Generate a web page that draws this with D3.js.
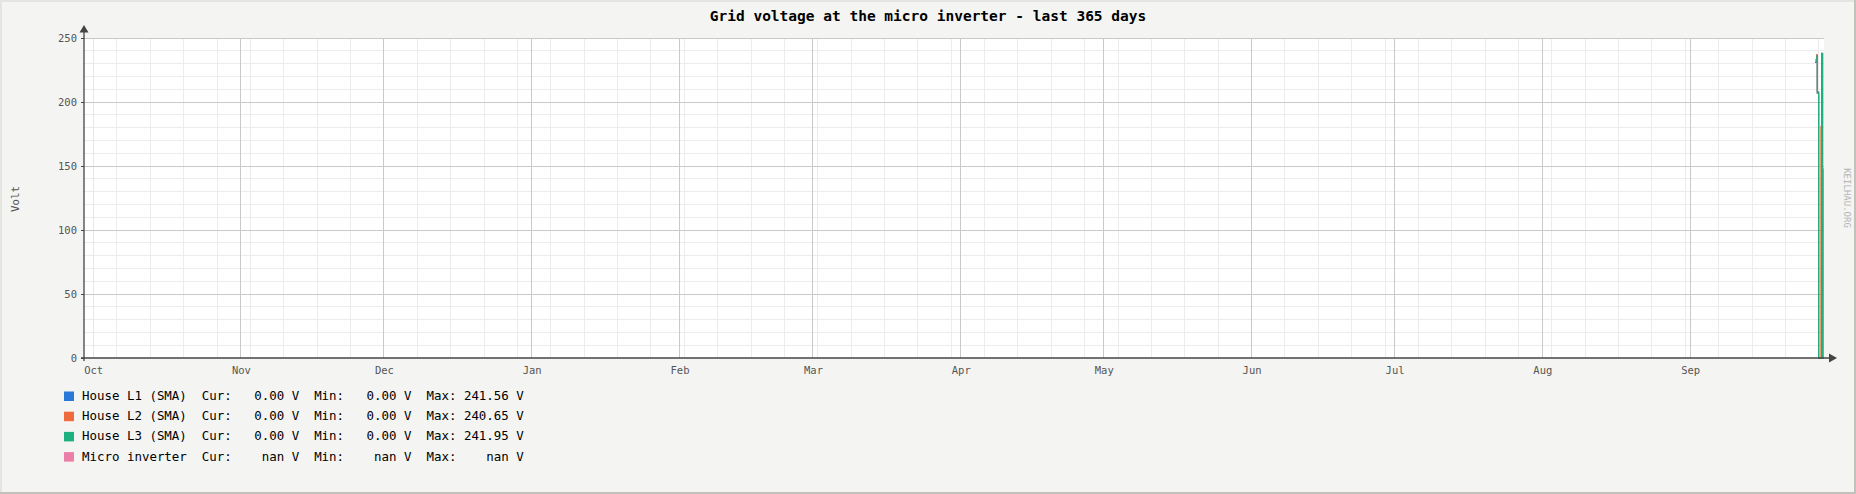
<!DOCTYPE html>
<html>
<head>
<meta charset="utf-8">
<script src="https://cdn.jsdelivr.net/npm/d3@7"></script>
<style>
  body { margin: 0; background: #f4f4f2; }
  svg { display: block; }
  text { font-family: "DejaVu Sans Mono", monospace; white-space: pre; }
</style>
</head>
<body>
<svg id="chart" width="1856" height="494"></svg>
<script>
// --- data ---
const title = "Grid voltage at the micro inverter - last 365 days";
const yLabel = "Volt";
const watermark = "KEILHAU.ORG";
const rangeStart = "2014-09-29T02:00:00Z";
const rangeEnd = "2015-09-29T02:00:00Z";
const monthLabels = ["Oct", "Nov", "Dec", "Jan", "Feb", "Mar", "Apr", "May", "Jun", "Jul", "Aug", "Sep"];
const yTicks = [0, 50, 100, 150, 200, 250];

const seriesNames = ["House L1 (SMA)", "House L2 (SMA)", "House L3 (SMA)", "Micro inverter"];
const seriesColors = ["#2979d9", "#ef6b3b", "#1db17f", "#ec7fa8"];
const curValues = [0, 0, 0, NaN];
const minValues = [0, 0, 0, NaN];
const maxValues = [241.56, 240.65, 241.95, NaN];

// only the last two days have samples, the rest of the year is unknown
const sampleTimes = ["2015-09-27T05:00:00Z", "2015-09-27T13:00:00Z", "2015-09-27T14:00:00Z",
    "2015-09-27T16:00:00Z", "2015-09-27T16:30:00Z", "2015-09-27T23:00:00Z", "2015-09-28T10:30:00Z",
    "2015-09-28T14:00:00Z", "2015-09-28T17:30:00Z", "2015-09-28T18:00:00Z", "2015-09-28T20:00:00Z",
    "2015-09-29T02:00:00Z"];
const houseL1 = [231, 231, 235, 208, 208, 0, 0, 236, 236, 147, 0, 0];
const houseL2 = [233, 237, 237, 207, 207, 0, 181, 238, 238, 238, 0, 0];
const houseL3 = [232, 232, 236, 236, 207, 0, 0, 238, 238, 148, 0, 0];
const microInverter = sampleTimes.map(() => null);

// --- layout ---
let svg = d3.select("#chart");
let W = +svg.attr("width"), H = +svg.attr("height");
let plotLeft = 84, plotRight = 1824, plotTop = 38, plotBottom = 358;

let xScale = d3.scaleUtc()
    .domain([new Date(rangeStart), new Date(rangeEnd)])
    .range([plotLeft, plotRight]);
let yScale = d3.scaleLinear().domain([0, 250]).range([plotBottom, plotTop]);

// frame
svg.append("rect").attr("width", W).attr("height", H).attr("fill", "#f4f4f2");
svg.append("path").attr("d", `M1,${H} V1 H${W}`).attr("fill", "none").attr("stroke", "#e4e4e2").attr("stroke-width", 2);
svg.append("path").attr("d", `M0,${H - 1} H${W - 1} V0`).attr("fill", "none").attr("stroke", "#c2c2ba").attr("stroke-width", 2);

// plot area
svg.append("rect").attr("x", plotLeft).attr("y", plotTop)
    .attr("width", plotRight - plotLeft).attr("height", plotBottom - plotTop).attr("fill", "#ffffff");

let grid = svg.append("g").attr("shape-rendering", "crispEdges");

// minor horizontal grid (10 V)
grid.selectAll(".hminor").data(d3.range(10, 250, 10).filter(v => v % 50 !== 0))
    .enter().append("line")
    .attr("x1", plotLeft).attr("x2", plotRight)
    .attr("y1", d => yScale(d)).attr("y2", d => yScale(d))
    .attr("stroke", "#ececec");

// minor vertical grid (weeks, Mondays)
let weeks = d3.utcMonday.range(xScale.domain()[0], xScale.domain()[1]);
grid.selectAll(".vminor").data(weeks)
    .enter().append("line")
    .attr("x1", d => xScale(d)).attr("x2", d => xScale(d))
    .attr("y1", plotTop).attr("y2", plotBottom)
    .attr("stroke", "#ececec");

// major grid
let months = d3.utcMonth.range(xScale.domain()[0], xScale.domain()[1]);
grid.selectAll(".vmajor").data(months)
    .enter().append("line")
    .attr("x1", d => xScale(d)).attr("x2", d => xScale(d))
    .attr("y1", plotTop).attr("y2", plotBottom)
    .attr("stroke", (d, i) => i === 0 ? "#e6e6e6" : "#c9c9c9");
grid.selectAll(".hmajor").data(yTicks.filter(v => v > 0))
    .enter().append("line")
    .attr("x1", plotLeft).attr("x2", plotRight)
    .attr("y1", d => yScale(d)).attr("y2", d => yScale(d))
    .attr("stroke", "#c9c9c9");

// series lines
let allSeries = [houseL1, houseL2, houseL3, microInverter];
let line = d3.line()
    .defined(d => d.v != null && !isNaN(d.v))
    .x(d => xScale(d.t))
    .y(d => yScale(d.v))
    .curve(d3.curveStepAfter);
allSeries.forEach((vals, i) => {
    let pts = sampleTimes.map((t, j) => ({ t: new Date(t), v: vals[j] }));
    svg.append("path")
        .datum(pts)
        .attr("d", line)
        .attr("fill", "none")
        .attr("stroke", seriesColors[i])
        .attr("stroke-width", 1.2);
});

// axes
let yAxis = svg.append("g")
    .attr("transform", `translate(${plotLeft},0)`)
    .call(d3.axisLeft(yScale).tickValues(yTicks).tickSize(3).tickPadding(4));
yAxis.select(".domain").remove();
yAxis.selectAll("line").attr("stroke", "#444");
yAxis.selectAll("text")
    .attr("fill", "#555").style("font-size", "10.5px")
    .style("font-family", "DejaVu Sans Mono, monospace");

let xAxis = svg.append("g")
    .attr("transform", `translate(0,${plotBottom})`)
    .call(d3.axisBottom(xScale).tickValues(months).tickSize(0).tickPadding(9)
        .tickFormat((d, i) => monthLabels[i]));
xAxis.select(".domain").remove();
xAxis.selectAll("text")
    .attr("fill", "#555").style("font-size", "10.5px")
    .style("font-family", "DejaVu Sans Mono, monospace");

svg.append("line").attr("x1", plotLeft).attr("x2", plotLeft).attr("y1", 31).attr("y2", plotBottom + 3)
    .attr("stroke", "#444").attr("stroke-width", 1.3);
svg.append("line").attr("x1", plotLeft - 3).attr("x2", 1830).attr("y1", plotBottom).attr("y2", plotBottom)
    .attr("stroke", "#444").attr("stroke-width", 1.3);
svg.append("path").attr("d", `M${plotLeft - 4.5},32.5 L${plotLeft},25 L${plotLeft + 4.5},32.5 Z`).attr("fill", "#444");
svg.append("path").attr("d", `M1829,${plotBottom - 4.5} L1837,${plotBottom} L1829,${plotBottom + 4.5} Z`).attr("fill", "#444");

// title and labels
svg.append("text").attr("x", W / 2).attr("y", 21)
    .attr("text-anchor", "middle").style("font-size", "14.5px").style("font-weight", "bold")
    .attr("fill", "#000").text(title);
svg.append("text").attr("transform", "translate(19,199) rotate(-90)")
    .attr("text-anchor", "middle").style("font-size", "10.8px").attr("fill", "#555").text(yLabel);
svg.append("text").attr("transform", "translate(1844,198) rotate(90)")
    .attr("text-anchor", "middle").style("font-size", "9px").attr("fill", "#b4b4b4").text(watermark);

// legend
let fmt = v => isNaN(v) ? "   nan" : d3.format("6.2f")(v);
let legend = svg.append("g");
seriesNames.forEach((name, i) => {
    let y = 400 + i * 20.2;
    legend.append("rect").attr("x", 64).attr("y", y - 8.5).attr("width", 10).attr("height", 9.5)
        .attr("fill", seriesColors[i]);
    legend.append("text").attr("x", 82).attr("y", y)
        .style("font-size", "12.45px").attr("fill", "#000")
        .text(`${name}  Cur: ${fmt(curValues[i])} V  Min: ${fmt(minValues[i])} V  Max: ${fmt(maxValues[i])} V`);
});
</script>
</body>
</html>
